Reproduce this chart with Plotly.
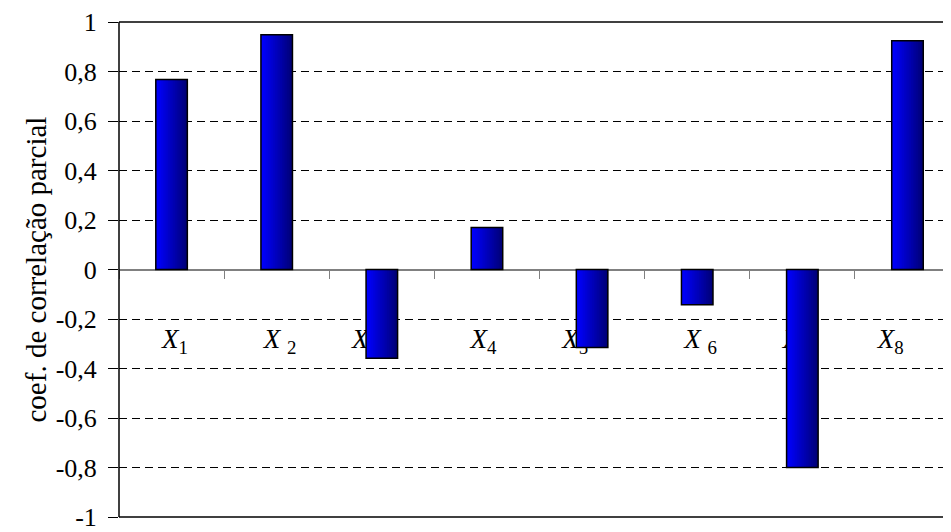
import plotly.graph_objects as go

# categories and partial correlation coefficients
categories = ["X1", "X2", "X3", "X4", "X5", "X6", "X7", "X8"]
NB = "\u00a0"
# labels sit a little off-centre in the original, padded with nbsp to match
cat_labels = [NB + "<i>X</i><sub>1</sub>",
              NB + "<i>X</i> <sub>2</sub>",
              "<i>X</i> <sub>3</sub>" + NB * 4,
              "<i>X</i><sub>4</sub>" + NB,
              "<i>X</i><sub>5</sub>" + NB * 5,
              NB + "<i>X</i> <sub>6</sub>",
              "<i>X</i><sub>7</sub>" + NB * 2,
              "<i>X</i><sub>8</sub>" + NB * 5]
coef = [0.768, 0.948, -0.359, 0.170, -0.315, -0.142, -0.800, 0.924]

y_ticks = [-1, -0.8, -0.6, -0.4, -0.2, 0, 0.2, 0.4, 0.6, 0.8, 1]
y_ticktext = ["-1", "-0,8", "-0,6", "-0,4", "-0,2", "0", "0,2", "0,4", "0,6", "0,8", "1"]

FONT = "Liberation Serif"
BAR_W = 0.3
N_SLICES = 18

fig = go.Figure()

# fake a horizontal gradient (bright blue -> navy) with thin overlapping slices
step = BAR_W / N_SLICES
for i in range(N_SLICES):
    t = i / (N_SLICES - 1)
    b = round(255 - t * (255 - 120))
    w = step * 1.6 if i < N_SLICES - 1 else step
    fig.add_trace(go.Bar(
        x=categories, y=coef,
        width=w, offset=-BAR_W / 2 + i * step,
        marker=dict(color=f"rgb(0,0,{b})", line=dict(width=0)),
        hoverinfo="skip", showlegend=False,
    ))

# outline
fig.add_trace(go.Bar(
    x=categories, y=coef, width=BAR_W, offset=-BAR_W / 2,
    marker=dict(color="rgba(0,0,0,0)", line=dict(color="black", width=1.5)),
    showlegend=False,
))

# frame: left, top, bottom (right edge of the original is cropped off)
frame = dict(type="line", xref="paper", yref="paper", line=dict(color="black", width=1.5))
shapes = [dict(frame, x0=0, x1=1, y0=1, y1=1),
          dict(frame, x0=0, x1=1, y0=0, y1=0),
          dict(frame, x0=0, x1=0, y0=0, y1=1)]

# page body has an 8px margin, so the figure is a bit smaller than the window
fig.update_layout(
    width=943, height=524,
    barmode="overlay",
    plot_bgcolor="white", paper_bgcolor="white",
    margin=dict(l=111, r=0, t=13, b=12),
    font=dict(family=FONT, size=26, color="black"),
    xaxis=dict(
        type="category", range=[-0.5, 7.414],
        tickvals=categories, ticktext=cat_labels,
        anchor="free", position=0.5,
        showline=True, linecolor="#808080", linewidth=1,
        ticks="outside", tickson="boundaries", ticklen=8, tickcolor="#808080",
        ticklabelstandoff=45,
        tickfont=dict(family=FONT, size=27),
        showgrid=False, layer="below traces",
    ),
    yaxis=dict(
        range=[-1, 1], tickvals=y_ticks, ticktext=y_ticktext,
        showgrid=True, gridcolor="black", griddash="8px,5px", gridwidth=1,
        zeroline=True, zerolinecolor="#808080", zerolinewidth=1,
        showline=False,
        ticks="outside", ticklen=10, tickcolor="black",
        ticklabelstandoff=6, ticklabeloverflow="allow",
        tickfont=dict(family=FONT, size=26),
    ),
    shapes=shapes,
    annotations=[dict(text="coef. de correlação parcial", xref="paper", yref="paper",
                      x=0, y=0.5, xshift=-102, textangle=-90, showarrow=False,
                      font=dict(family=FONT, size=29))],
)

fig.write_html("out.html")
